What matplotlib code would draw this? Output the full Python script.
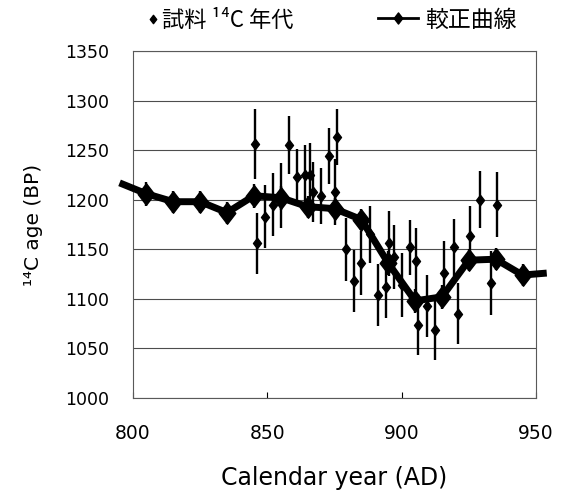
import matplotlib
matplotlib.use("Agg")
import matplotlib.pyplot as plt
from matplotlib.lines import Line2D
from matplotlib.path import Path

# ---- data ----
curve_years = [795, 805, 815, 825, 835, 845, 855, 865, 875, 885, 895, 905, 915, 925, 935, 945, 954]
curve_ages = [1217, 1206, 1198, 1198, 1187, 1204, 1202, 1193, 1191, 1180, 1136, 1098, 1102, 1139, 1140, 1124, 1126]
curve_err = [0, 12, 11, 11, 11, 12, 12, 11, 11, 11, 12, 12, 12, 11, 11, 11, 0]

sample_years = [845.3, 846.2, 849.3, 852.1, 855.2, 858.2, 861.1, 864.2, 866.0, 867.0,
                870.1, 872.9, 875.1, 876.0, 879.1, 882.1, 885.0, 888.2, 891.2, 894.3,
                895.3, 897.2, 900.1, 903.1, 905.2, 906.2, 909.3, 912.3, 915.6, 919.4,
                921.1, 925.5, 929.2, 933.3, 935.4]
sample_ages = [1256, 1156, 1183, 1195, 1204, 1255, 1223, 1225, 1225, 1208,
               1204, 1244, 1208, 1263, 1150, 1118, 1136, 1165, 1104, 1112,
               1156, 1142, 1114, 1152, 1138, 1074, 1093, 1069, 1126, 1152,
               1085, 1163, 1200, 1116, 1195]
sample_err = [35, 31, 32, 32, 33, 29, 28, 30, 32, 30,
              28, 28, 33, 28, 32, 31, 32, 29, 31, 31,
              33, 32, 32, 28, 33, 31, 31, 31, 32, 29,
              31, 31, 29, 32, 33]

x_ticks = [800, 850, 900, 950]
y_ticks = [1000, 1050, 1100, 1150, 1200, 1250, 1300, 1350]

label_samples = "試料 ¹⁴C 年代"
label_curve = "較正曲線"
xlabel = "Calendar year (AD)"
ylabel = "¹⁴C age (BP)"

# ---- style ----
cjk = ["Noto Sans CJK JP", "DejaVu Sans"]
plt.rcParams['font.family'] = ["DejaVu Sans", "Noto Sans CJK JP"]

diamond = Path([(-1, 0), (0, 1.3), (1, 0), (0, -1.3), (-1, 0)],
               [Path.MOVETO, Path.LINETO, Path.LINETO, Path.LINETO, Path.CLOSEPOLY])

fig = plt.figure(figsize=(5.67, 4.99), dpi=100)
ax = fig.add_axes([133/567, 1-398/499, (536-133)/567, (398-51)/499])

# samples
ax.errorbar(sample_years, sample_ages, yerr=sample_err, fmt='none',
            ecolor='black', elinewidth=1.7, capsize=0, zorder=2)
ax.plot(sample_years, sample_ages, ls='none', marker=diamond, ms=7.5,
        color='black', zorder=3)

# calibration curve
ax.errorbar(curve_years[1:-1], curve_ages[1:-1], yerr=curve_err[1:-1], fmt='none',
            ecolor='black', elinewidth=1.7, capsize=0, zorder=4)
ax.plot(curve_years, curve_ages, color='black', lw=5, zorder=5, clip_on=False,
        solid_capstyle='butt')
ax.plot(curve_years[1:-1], curve_ages[1:-1], ls='none', marker=diamond, ms=15.5,
        color='black', zorder=6, clip_on=False)

ax.set_xlim(800, 950)
ax.set_ylim(1000, 1350)
ax.set_xticks(x_ticks)
ax.set_yticks(y_ticks)
ax.tick_params(axis='y', length=0, pad=17, labelsize=12.5)
ax.tick_params(axis='x', direction='in', length=4, width=0.8, pad=19, labelsize=13.5)
ax.yaxis.grid(True, color='0.3', lw=0.8)
ax.set_axisbelow(True)
for s in ax.spines.values():
    s.set_color('0.35')
    s.set_linewidth(0.8)

ax.set_xlabel(xlabel, fontsize=17, labelpad=16)
ax.set_ylabel(ylabel, fontsize=14.5, labelpad=16)

# legends
h1 = Line2D([], [], ls='none', marker=diamond, ms=6, color='black')
h2 = Line2D([], [], color='black', lw=2, marker=diamond, ms=8)
ycen = 1 - 20/499
leg1 = fig.legend([h1], [label_samples], loc='center left', bbox_to_anchor=(146/567, ycen),
                  frameon=False, handlelength=0.6, handletextpad=0.1, borderpad=0,
                  borderaxespad=0, prop={'family': cjk, 'size': 16})
leg2 = fig.legend([h2], [label_curve], loc='center left', bbox_to_anchor=(378/567, ycen),
                  frameon=False, handlelength=1.75, handletextpad=0.3, borderpad=0,
                  borderaxespad=0, prop={'family': cjk, 'size': 16.5})

fig.savefig("out.png", dpi=100)
